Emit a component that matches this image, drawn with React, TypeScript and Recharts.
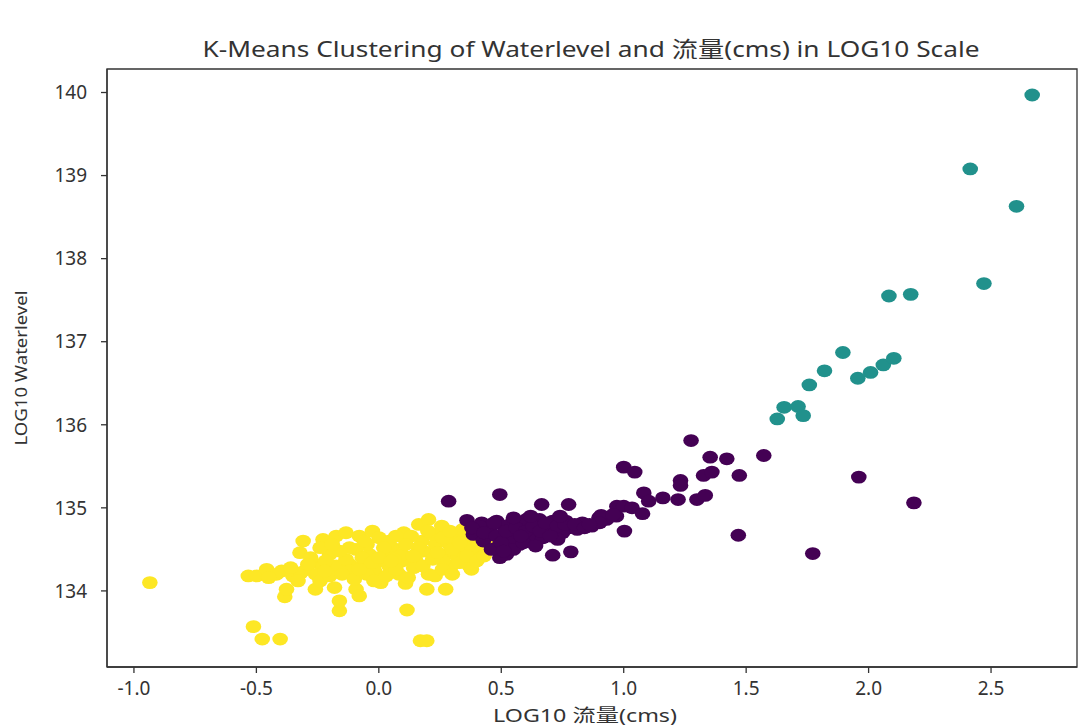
import { ScatterChart, Scatter, XAxis, YAxis, ReferenceArea } from "recharts";

// log10 flow (x) vs log10 water level (y), grouped by k-means label
const xTicks = [-1, -0.5, 0, 0.5, 1, 1.5, 2, 2.5];
const yTicks = [134, 135, 136, 137, 138, 139, 140];
const xDomain: [number, number] = [-1.11, 2.851];
const yDomain: [number, number] = [133.084, 140.283];

const TITLE = "K-Means Clustering of Waterlevel and 流量(cms) in LOG10 Scale";
const X_LABEL = "LOG10 流量(cms)";
const Y_LABEL = "LOG10 Waterlevel";

// cluster 0 — medium flow
const cluster0: [number, number][] = [
  [0.285, 135.08], [0.494, 135.16], [0.665, 135.04], [0.775, 135.04],
  [0.36, 134.85], [0.42, 134.82], [0.481, 134.84], [0.548, 134.84], [0.602, 134.86],
  [0.656, 134.86], [0.71, 134.84], [0.764, 134.84], [0.831, 134.82], [0.899, 134.88],
  [0.386, 134.68], [0.454, 134.72], [0.521, 134.68], [0.575, 134.72], [0.643, 134.7],
  [0.71, 134.72], [0.777, 134.76],
  [0.481, 134.52], [0.521, 134.44], [0.494, 134.4], [0.575, 134.56], [0.71, 134.43],
  [0.784, 134.47], [0.427, 134.6], [0.629, 134.6],
  [0.44, 134.76], [0.51, 134.78], [0.59, 134.8], [0.69, 134.78], [0.75, 134.7],
  [0.81, 134.74], [0.54, 134.62], [0.61, 134.66], [0.67, 134.64], [0.73, 134.62],
  [0.46, 134.5], [0.55, 134.5], [0.59, 134.58], [0.41, 134.78], [0.87, 134.78],
  [0.93, 134.86], [0.97, 134.9],
  [0.38, 134.76], [0.43, 134.7], [0.48, 134.66], [0.5, 134.58], [0.52, 134.72],
  [0.56, 134.76], [0.6, 134.72], [0.63, 134.78], [0.66, 134.72], [0.68, 134.82],
  [0.73, 134.78], [0.76, 134.8], [0.8, 134.8], [0.84, 134.76], [0.7, 134.66],
  [0.64, 134.54], [0.51, 134.48], [0.58, 134.66], [0.47, 134.82], [0.55, 134.88],
  [0.74, 134.9], [0.62, 134.9],
  [1.275, 135.81], [1.353, 135.61], [1.421, 135.59], [1.572, 135.63], [1.0, 135.49],
  [1.045, 135.43], [1.326, 135.39], [1.36, 135.43], [1.472, 135.39], [1.232, 135.33],
  [1.232, 135.27], [1.96, 135.37], [1.082, 135.18], [1.102, 135.08], [1.16, 135.12],
  [1.222, 135.1], [1.299, 135.1], [1.333, 135.15], [2.185, 135.06], [0.972, 135.02],
  [1.0, 135.02], [1.034, 135.0], [1.077, 134.93], [0.908, 134.91], [0.957, 134.92],
  [0.902, 134.82], [0.86, 134.8], [1.003, 134.72], [1.468, 134.67], [1.772, 134.45],
];

// cluster 1 — high flow
const cluster1: [number, number][] = [
  [2.668, 139.97], [2.415, 139.08], [2.604, 138.63], [2.471, 137.7], [2.083, 137.55],
  [2.172, 137.57], [1.895, 136.87], [1.82, 136.65], [1.758, 136.48], [1.956, 136.56],
  [2.008, 136.63], [2.06, 136.72], [2.103, 136.8], [1.655, 136.21], [1.712, 136.22],
  [1.733, 136.11], [1.627, 136.07],
];

// cluster 2 — low flow
const cluster2: [number, number][] = [
  [-0.935, 134.1],
  [-0.512, 133.57], [-0.476, 133.42], [-0.403, 133.42], [0.17, 133.4], [0.196, 133.4],
  [0.115, 133.77], [-0.161, 133.76], [-0.161, 133.88], [-0.384, 133.93],
  [-0.377, 134.02], [-0.259, 134.02], [-0.181, 134.04], [-0.093, 134.02], [-0.08, 133.94],
  [0.008, 134.1], [0.109, 134.09], [0.196, 134.02], [0.273, 134.02],
  [-0.533, 134.18], [-0.499, 134.18], [-0.458, 134.26], [-0.397, 134.24], [-0.351, 134.18],
  [-0.295, 134.26], [-0.275, 134.34], [-0.228, 134.28], [-0.174, 134.3], [-0.12, 134.32],
  [-0.067, 134.3], [-0.012, 134.34], [0.041, 134.3], [0.095, 134.36], [0.149, 134.38],
  [0.203, 134.2], [0.23, 134.18], [0.297, 134.3], [0.378, 134.26], [0.392, 134.38],
  [-0.201, 134.44], [-0.322, 134.46], [-0.309, 134.6], [-0.228, 134.62], [-0.174, 134.66],
  [-0.134, 134.7], [-0.08, 134.66], [-0.026, 134.72], [0.001, 134.64], [-0.093, 134.5],
  [0.055, 134.52], [0.102, 134.7], [0.163, 134.8], [0.203, 134.86], [0.176, 134.6],
  [0.257, 134.78], [0.311, 134.68], [0.392, 134.54], [0.338, 134.5], [0.271, 134.44],
  [-0.039, 134.44], [0.028, 134.46], [0.095, 134.44], [-0.134, 134.38],
  [-0.418, 134.2], [-0.318, 134.22], [-0.258, 134.2], [-0.218, 134.36], [-0.068, 134.4],
  [-0.018, 134.24], [0.062, 134.38], [0.142, 134.28], [0.182, 134.48], [0.232, 134.56],
  [0.262, 134.36], [0.322, 134.4], [0.362, 134.62], [0.222, 134.68], [0.132, 134.66],
  [0.042, 134.6], [-0.048, 134.56], [0.282, 134.58], [0.402, 134.46], [0.342, 134.74],
  [-0.278, 134.4], [-0.118, 134.24], [0.082, 134.2], [0.382, 134.53], [0.372, 134.29],
  [-0.45, 134.16], [-0.36, 134.28], [-0.33, 134.12], [-0.24, 134.12], [-0.2, 134.18],
  [-0.15, 134.2], [-0.1, 134.14], [-0.05, 134.2], [-0.02, 134.12], [0.03, 134.18],
  [0.07, 134.26], [0.12, 134.16], [0.18, 134.3], [0.22, 134.38], [0.26, 134.26],
  [0.3, 134.2], [0.33, 134.34], [0.36, 134.42], [0.4, 134.36], [0.43, 134.42],
  [0.44, 134.58], [0.41, 134.66], [0.3, 134.5], [0.26, 134.64], [0.16, 134.52],
  [0.11, 134.56], [0.02, 134.52], [-0.06, 134.6], [-0.12, 134.52], [-0.16, 134.48],
  [-0.24, 134.52], [-0.19, 134.56], [0.07, 134.66], [-0.03, 134.34], [0.0, 134.4],
  [-0.29, 134.32], [0.14, 134.42], [0.24, 134.46], [0.33, 134.58], [0.2, 134.72],
  [0.29, 134.72], [0.05, 134.36], [-0.22, 134.24], [-0.08, 134.26],
];

const COLORS = ["#440154", "#21918c", "#fde725"];
const FONT = "'Noto Sans', 'Noto Sans CJK TC', sans-serif";
const INK = "#333333";

const toPoints = (pts: [number, number][]) => pts.map(([x, y]) => ({ x, y }));

const Dot = (props: any) => (
  <ellipse cx={props.cx} cy={props.cy} rx={7.8} ry={6.4} fill={props.fill} />
);

const tickStyle = { fill: INK, fontSize: 19, fontFamily: FONT };

export default function App() {
  return (
    <div style={{ position: "absolute", left: 0, top: 0, width: 1079, height: 728, background: "#fff" }}>
      <ScatterChart
        width={1079}
        height={728}
        margin={{ top: 69, right: 2, bottom: 0, left: 0 }}
      >
        <XAxis
          type="number"
          dataKey="x"
          domain={xDomain}
          ticks={xTicks}
          allowDataOverflow
          height={61}
          tick={tickStyle}
          tickSize={6}
          tickMargin={9}
          tickFormatter={(v: number) => v.toFixed(1)}
          axisLine={{ stroke: INK, strokeWidth: 1.3 }}
          tickLine={{ stroke: INK, strokeWidth: 1.3 }}
        />
        <YAxis
          type="number"
          dataKey="y"
          domain={yDomain}
          ticks={yTicks}
          allowDataOverflow
          width={107}
          tick={tickStyle}
          tickSize={6}
          tickMargin={14}
          axisLine={{ stroke: INK, strokeWidth: 1.3 }}
          tickLine={{ stroke: INK, strokeWidth: 1.3 }}
        />
        <Scatter data={toPoints(cluster2)} fill={COLORS[2]} shape={Dot} isAnimationActive={false} />
        <Scatter data={toPoints(cluster0)} fill={COLORS[0]} shape={Dot} isAnimationActive={false} />
        <Scatter data={toPoints(cluster1)} fill={COLORS[1]} shape={Dot} isAnimationActive={false} />
        <ReferenceArea
          x1={xDomain[0]}
          x2={xDomain[1]}
          y1={yDomain[0]}
          y2={yDomain[1]}
          fill="none"
          stroke={INK}
          strokeWidth={1.3}
        />
      </ScatterChart>
      <svg
        width={1079}
        height={728}
        style={{ position: "absolute", left: 0, top: 0, pointerEvents: "none" }}
      >
        <text
          x={591}
          y={57}
          textAnchor="middle"
          fontSize={22}
          fontFamily={FONT}
          fill={INK}
          textLength={777}
          lengthAdjust="spacingAndGlyphs"
        >
          {TITLE}
        </text>
        <text
          x={585}
          y={722}
          textAnchor="middle"
          fontSize={18}
          fontFamily={FONT}
          fill={INK}
          textLength={184}
          lengthAdjust="spacingAndGlyphs"
        >
          {X_LABEL}
        </text>
        <text
          x={0}
          y={0}
          transform="translate(27, 368) rotate(-90)"
          textAnchor="middle"
          fontSize={17}
          fontFamily={FONT}
          fill={INK}
          textLength={155}
          lengthAdjust="spacingAndGlyphs"
        >
          {Y_LABEL}
        </text>
      </svg>
    </div>
  );
}
